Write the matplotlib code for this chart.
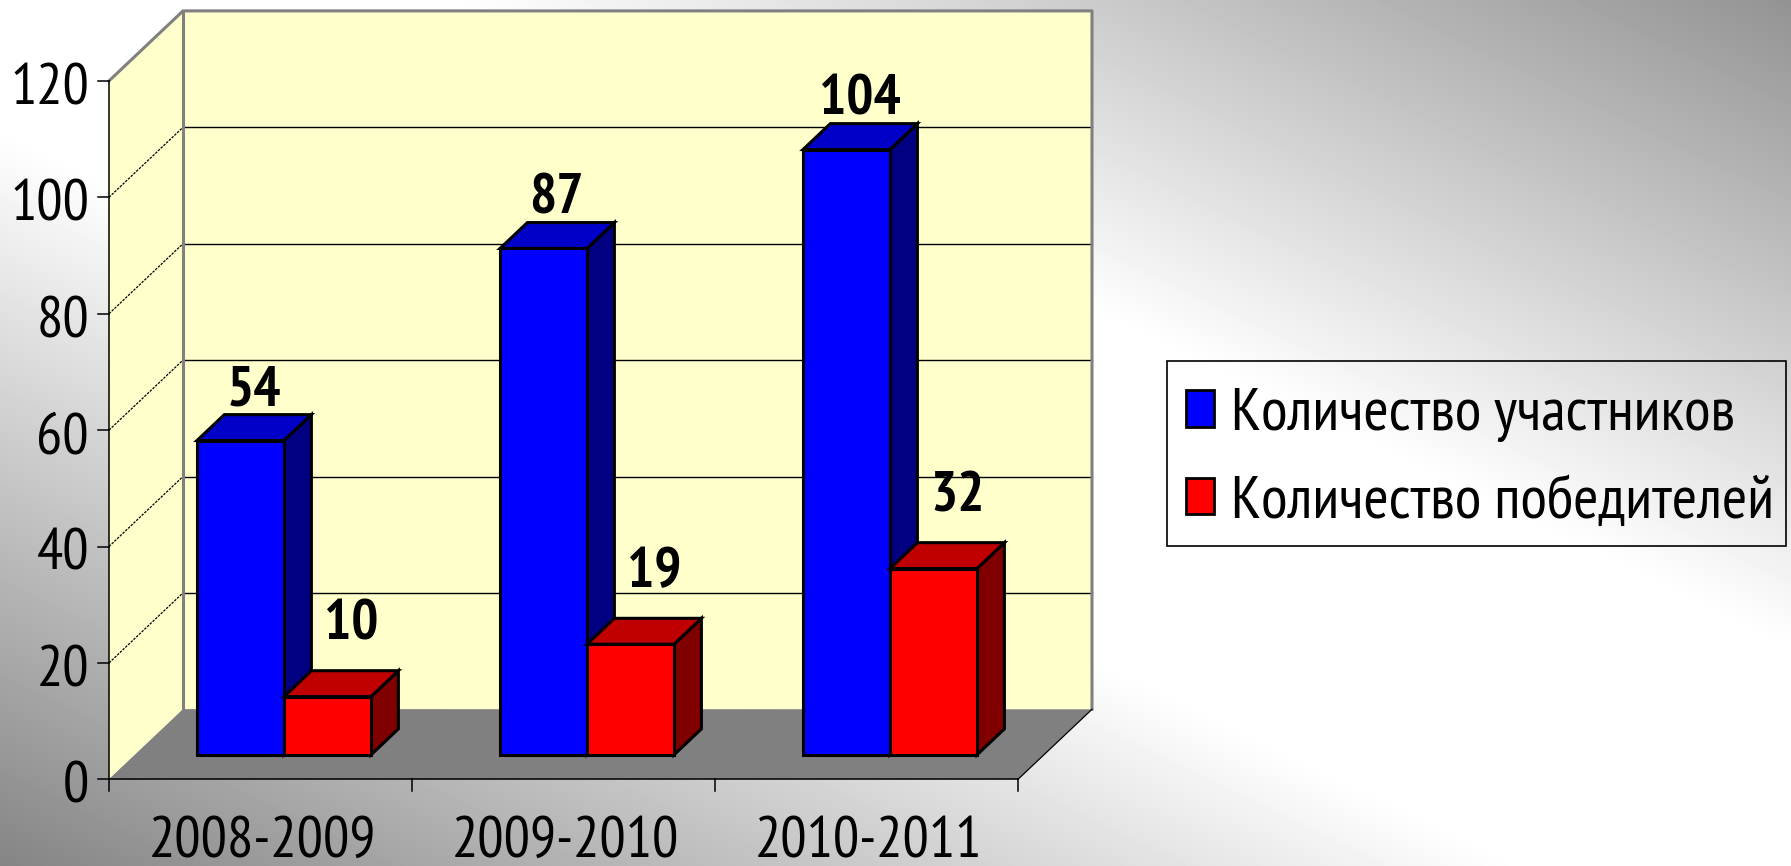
import numpy as np
import matplotlib.pyplot as plt
from matplotlib import font_manager
from matplotlib.patches import Polygon, Patch, Rectangle

# data
years = ['2008-2009', '2009-2010', '2010-2011']
participants = [54, 87, 104]
winners = [10, 19, 32]
series_names = ['Количество участников', 'Количество победителей']
y_ticks = [0, 20, 40, 60, 80, 100, 120]

# an Arial Narrow look-alike, whichever is installed
installed = {f.name for f in font_manager.fontManager.ttflist}
narrow, stretch = 'DejaVu Sans', 'condensed'
for name in ['Liberation Sans Narrow', 'Arial Narrow', 'PT Sans Narrow', 'Roboto Condensed']:
    if name in installed:
        narrow, stretch = name, 'normal'
        break
font = dict(family=narrow, stretch=stretch)

W, H = 1791, 866
fig = plt.figure(figsize=(W / 100, H / 100), dpi=100)

# grey-white-grey diagonal slide background
bg = fig.add_axes([0, 0, 1, 1])
bg.axis('off')
xx, yy = np.meshgrid(np.linspace(0, 1, 400), np.linspace(0, 1, 200))
t = xx - yy
shade = 1 - 0.45 * np.clip((np.abs(t - 0.05) - 0.2) / 0.8, 0, None)
bg.imshow(shade, cmap='gray', vmin=0, vmax=1, extent=[0, 1, 0, 1],
          aspect='auto', origin='upper', interpolation='bilinear')

# main axes: x in category units, y in value units
ax = fig.add_axes([0, 0, 1, 1])
ax.patch.set_alpha(0)
px_x = 1 / 303.0
px_y = 1 / 5.82
ax.set_xlim(-109 * px_x, (W - 109) * px_x)
ax.set_ylim(-(H - 779.3) * px_y, 779.3 * px_y)
ax.axis('off')

n = len(years)
top = y_ticks[-1]
dx, dy = 74 * px_x, 70 * px_y   # depth of the 3d box
wall = '#FFFFCC'

ax.add_patch(Polygon([(0, 0), (0, top), (dx, top + dy), (dx, dy)], fc=wall, ec='none', zorder=1))
ax.add_patch(Polygon([(dx, dy), (dx, top + dy), (n + dx, top + dy), (n + dx, dy)], fc=wall, ec='none', zorder=1))
ax.add_patch(Polygon([(0, 0), (n, 0), (n + dx, dy), (dx, dy)], fc='#808080', ec='none', zorder=2))

for v in y_ticks[1:-1]:
    ax.plot([dx, n + dx], [v + dy, v + dy], color='black', lw=1.0, zorder=2)
    ax.plot([0, dx], [v, v + dy], color='black', lw=0.9, ls=(0, (2, 1)), zorder=2)

ax.plot([0, dx, n + dx, n + dx], [top, top + dy, top + dy, dy], color='#808080', lw=2.2, zorder=3)
ax.plot([dx, dx], [dy, top + dy], color='#808080', lw=2.2, zorder=3)
ax.plot([n, n + dx], [0, dy], color='black', lw=0.9, zorder=3)

# axes lines and ticks
ax.plot([0, 0], [0, top], color='black', lw=1.1, zorder=3)
ax.plot([0, n], [0, 0], color='black', lw=1.1, zorder=3)
for v in y_ticks:
    ax.plot([-11 * px_x, 0], [v, v], color='black', lw=1.1, zorder=3)
    ax.text(-20 * px_x, v - 3 * px_y, str(v), ha='right', va='center_baseline', fontsize=42, zorder=6, **font)
for i in range(n + 1):
    ax.plot([i, i], [0, -12 * px_y], color='black', lw=1.1, zorder=3)
for i, yr in enumerate(years):
    ax.text(i + 0.505, -(857 - 779.3) * px_y, yr, ha='center', va='baseline', fontsize=42, zorder=6, **font)

# 3d columns
f0, fb = 0.35, 0.37
bw = 87 * px_x
start = 0.205


def bar3d(x0, val, colors):
    ox, oy = x0 + f0 * dx, f0 * dy
    bx, by = fb * dx, fb * dy
    front = [(ox, oy), (ox + bw, oy), (ox + bw, oy + val), (ox, oy + val)]
    topf = [(ox, oy + val), (ox + bw, oy + val), (ox + bw + bx, oy + val + by), (ox + bx, oy + val + by)]
    side = [(ox + bw, oy), (ox + bw + bx, oy + by), (ox + bw + bx, oy + val + by), (ox + bw, oy + val)]
    for pts, c in zip([side, topf, front], colors):
        ax.add_patch(Polygon(pts, fc=c, ec='black', lw=2.2, joinstyle='miter', zorder=5))
    return ox + bw / 2


blue = ['#000080', '#0000C8', '#0000FF']
red = ['#800000', '#C00000', '#FF0000']
for i in range(n):
    cb = bar3d(i + start, participants[i], blue)
    cr = bar3d(i + start + bw, winners[i], red)
    ax.text(cb + 13 * px_x, participants[i] + 10.2, str(participants[i]), ha='center', va='baseline',
            fontsize=41, fontweight='bold', zorder=6, **font)
    ax.text(cr + 24 * px_x, winners[i] + 14, str(winners[i]), ha='center', va='baseline',
            fontsize=41, fontweight='bold', zorder=6, **font)

# legend
fig.patches.append(Rectangle((1167 / W, 1 - 546 / H), (1786 - 1167) / W, (546 - 361) / H,
                             transform=fig.transFigure, fc='none', ec='black', lw=1.2))
handles = [Patch(fc='#0000FF', ec='black', lw=2), Patch(fc='#FF0000', ec='black', lw=2)]
fig.legend(handles, series_names, loc='upper left', bbox_to_anchor=(1186 / W, 1 - 388 / H),
           frameon=False, borderpad=0, borderaxespad=0, prop=dict(size=44, **font),
           handlelength=0.45, handleheight=0.55, handletextpad=0.28, labelspacing=0.55)

fig.savefig('out.png', dpi=100)
